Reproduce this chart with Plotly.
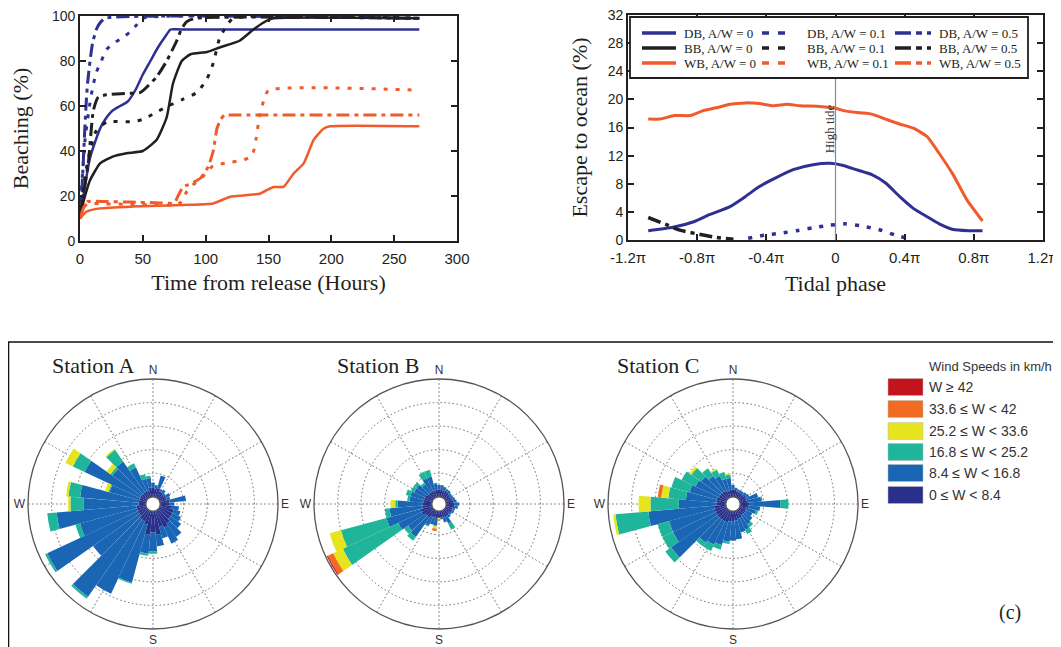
import plotly.graph_objects as go

# The page body adds an 8px margin, so the figure is drawn 8px in from the window corner.
OFF = 8
W, H = 1061 - OFF, 647 - OFF
def px(x): return (x - OFF) / W
def py(y): return 1 - (y - OFF) / H

# ---------------- Beaching (%) vs time (hours) ----------------
t_db0 = [0, 2, 5, 8, 12, 16, 20, 26, 32, 38, 44, 50, 56, 62, 68, 72, 80, 270]
v_db0 = [10, 17, 28, 37, 44, 50, 54, 58, 60, 62, 67, 74, 80, 86, 91, 94, 94, 94]
t_db1 = [0, 2, 4, 7, 10, 13, 17, 21, 27, 33, 40, 45, 50, 270]
v_db1 = [12, 30, 45, 58, 68, 75, 80, 85, 88, 90, 93, 96, 99, 99]
t_db5 = [0, 1, 2, 3, 4, 5, 6, 8, 10, 13, 16, 20, 270]
v_db5 = [10, 18, 28, 40, 52, 62, 70, 80, 88, 94, 97, 99, 99]

t_bb0 = [0, 4, 8, 16, 26, 37, 50, 61, 69, 74, 81, 88, 101, 111, 127, 138, 149, 154, 270]
v_bb0 = [11, 20, 27, 34.5, 37.5, 39, 40, 45, 55, 70, 80, 83, 84, 86, 89, 94, 98, 99, 99]
t_bb1 = [0, 2, 5, 8, 12, 16, 22, 40, 50, 60, 70, 82, 93, 101, 106, 111, 117, 122, 270]
v_bb1 = [11, 20, 32, 40, 48, 51, 53, 53, 54, 57, 60, 63, 66, 72, 79, 90, 96, 99, 99]
t_bb5 = [0, 3, 6.6, 10.6, 14.6, 21, 37, 48, 61, 69, 77, 81, 85, 92, 270]
v_bb5 = [11, 22, 34.5, 58, 64, 65, 65.6, 66, 73, 80, 89, 94.5, 97.5, 99, 99]

t_wb0 = [0, 5, 16, 42, 82, 106, 119.5, 133, 143, 149, 154, 162, 170, 178, 186, 194, 199, 270]
v_wb0 = [10, 13, 14.5, 15.3, 16, 16.7, 19.7, 20.4, 21, 22.7, 24, 24.1, 30, 34.5, 45, 50, 51, 51]
t_wb1 = [0, 3, 6, 20, 40, 60, 75, 80, 85, 90, 95, 100, 105, 110, 120, 130, 137, 140, 143, 146, 150, 270]
v_wb1 = [10, 15, 16.5, 16.5, 16.3, 16, 16, 17, 22, 25, 27, 30, 33, 34, 35, 36, 38, 45, 56, 62, 67, 67]
t_wb5 = [0, 3, 6, 20, 40, 60, 75, 78, 82, 86, 90, 96, 102, 106, 109, 112, 115, 120, 270]
v_wb5 = [10, 15, 17.5, 17.5, 17.3, 17, 17, 20, 24, 25, 26, 28, 33, 40, 50, 54, 56, 56, 56]

# ---------------- Escape to ocean (%) vs tidal phase (units of pi) ----------------
ph_wb0 = [-1.083, -1.016, -0.93, -0.84, -0.765, -0.69, -0.61, -0.52, -0.44, -0.36, -0.28, -0.205,
          -0.09, 0.0, 0.045, 0.14, 0.21, 0.30, 0.37, 0.45, 0.53, 0.60, 0.68, 0.76, 0.85]
e_wb0 = [17.2, 17.2, 17.7, 17.7, 18.4, 18.8, 19.3, 19.5, 19.4, 19.1, 19.3, 19.1,
         19.0, 18.75, 18.4, 18.1, 17.9, 17.1, 16.5, 15.9, 14.7, 12.3, 9.3, 5.7, 2.7]
ph_db0 = [-1.083, -0.94, -0.82, -0.73, -0.61, -0.52, -0.44, -0.34, -0.245, -0.13, -0.03, 0.045,
          0.12, 0.21, 0.29, 0.37, 0.45, 0.53, 0.60, 0.68, 0.77, 0.85]
e_db0 = [1.33, 1.8, 2.6, 3.6, 4.75, 6.2, 7.6, 8.9, 10.0, 10.7, 10.9, 10.6,
         10.0, 9.3, 8.1, 6.2, 4.5, 3.3, 2.3, 1.5, 1.33, 1.3]
ph_db1 = [-0.505, -0.41, -0.32, -0.225, -0.13, -0.035, 0.06, 0.15, 0.25, 0.345, 0.44]
e_db1 = [0.24, 0.7, 0.95, 1.33, 1.75, 2.1, 2.3, 2.0, 1.5, 0.7, 0.1]
ph_bb5 = [-1.083, -0.96, -0.9, -0.765, -0.69, -0.59]
e_bb5 = [3.2, 2.0, 1.4, 0.7, 0.38, 0.1]

phase_ticks = [-1.2, -0.8, -0.4, 0, 0.4, 0.8, 1.2]
phase_labels = ["-1.2π", "-0.8π", "-0.4π", "0", "0.4π", "0.8π", "1.2π"]

# ---------------- Wind roses (10° bins, stacked by speed class) ----------------
dirs = list(range(0, 360, 10))
speed_classes = ["0 ≤ W < 8.4", "8.4 ≤ W < 16.8", "16.8 ≤ W < 25.2",
                 "25.2 ≤ W < 33.6", "33.6 ≤ W < 42", "W ≥ 42"]
speed_colors = ["#28308a", "#1a66b5", "#1fb59b", "#e6e41f", "#f26b22", "#c3141e"]

A_c0 = [0.4, 0.35, 0.4, 0.3, 0.3, 0.25, 0.3, 0.3, 0.4, 0.4, 0.5, 0.6, 0.6, 0.6, 0.7, 0.8, 0.7, 1.0,
        0.9, 1.0, 0.6, 0.5, 0.5, 0.4, 0.4, 0.4, 0.4, 0.3, 0.3, 0.3, 0.3, 0.3, 0.3, 0.3, 0.3, 0.4]
A_c1 = [0.2, 0.15, 0.55, 0.1, 0.15, 0.1, 0.2, 0.15, 0.7, 0.2, 0.3, 0.3, 0.4, 0.55, 0.7, 0.75, 0.5, 0.5,
        0.8, 0.8, 2.55, 3.4, 4.0, 2.4, 4.25, 2.5, 3.4, 2.35, 2.5, 1.3, 2.6, 1.5, 1.6, 1.1, 0.5, 0.4]
A_c2 = [0, 0, 0, 0, 0, 0, 0, 0, 0, 0, 0, 0, 0, 0, 0, 0, 0, 0,
        0.1, 0.1, 0.05, 0, 0.1, 0, 0.1, 0.2, 0.4, 0.55, 0.5, 0.05, 0.55, 0.1, 0.6, 0.2, 0.2, 0.1]
A_c3 = [0, 0, 0, 0, 0, 0, 0, 0, 0, 0, 0, 0, 0, 0, 0, 0, 0, 0,
        0, 0, 0, 0, 0, 0, 0, 0, 0, 0.1, 0.1, 0.15, 0.35, 0.2, 0.05, 0, 0, 0]
A_c4 = [0] * 36
A_c5 = [0] * 36

B_c0 = [0.3, 0.3, 0.3, 0.3, 0.3, 0.25, 0.25, 0.3, 0.3, 0.35, 0.35, 0.3, 0.3, 0.25, 0.3, 0.3, 0.3, 0.25,
        0.25, 0.3, 0.3, 0.3, 0.4, 0.4, 0.5, 0.5, 0.4, 0.4, 0.35, 0.35, 0.35, 0.3, 0.3, 0.3, 0.3, 0.3]
B_c1 = [0.2, 0.2, 0.15, 0.1, 0.1, 0.1, 0.1, 0.1, 0.15, 0.2, 0.15, 0.1, 0.1, 0.1, 0.1, 0.3, 0.2, 0.1,
        0.05, 0.3, 0.3, 0.4, 1.0, 0.9, 1.1, 1.5, 1.4, 1.05, 0.6, 0.6, 0.5, 0.55, 0.4, 0.6, 0.6, 0.25]
B_c2 = [0, 0, 0, 0, 0, 0, 0, 0, 0, 0, 0, 0, 0, 0, 0, 0.3, 0, 0,
        0, 0.05, 0, 0.05, 0.2, 0.2, 2.6, 2.0, 0.2, 0.1, 0.1, 0.2, 0.15, 0.15, 0.1, 0.3, 0.3, 0.05]
B_c3 = [0, 0, 0, 0, 0, 0, 0, 0, 0, 0, 0, 0, 0, 0, 0, 0, 0, 0,
        0.05, 0.1, 0, 0, 0, 0, 0.45, 0.5, 0, 0.2, 0, 0, 0, 0, 0, 0, 0, 0]
B_c4 = [0, 0, 0, 0, 0, 0, 0, 0, 0, 0, 0, 0, 0, 0, 0, 0, 0, 0,
        0.05, 0.1, 0, 0, 0, 0, 0.25, 0, 0, 0, 0, 0, 0, 0, 0, 0, 0, 0]
B_c5 = [0, 0, 0, 0, 0, 0, 0, 0, 0, 0, 0, 0, 0, 0, 0, 0, 0, 0,
        0, 0, 0, 0, 0, 0, 0.05, 0, 0, 0, 0, 0, 0, 0, 0, 0, 0, 0]

C_c0 = [0.3, 0.3, 0.25, 0.25, 0.25, 0.25, 0.3, 0.3, 0.3, 0.4, 0.35, 0.3, 0.3, 0.3, 0.3, 0.35, 0.35, 0.4,
        0.45, 0.45, 0.5, 0.5, 0.5, 0.5, 0.5, 0.5, 0.5, 0.4, 0.4, 0.4, 0.35, 0.35, 0.35, 0.3, 0.3, 0.3]
C_c1 = [0.2, 0.1, 0.1, 0.1, 0.1, 0.15, 0.15, 0.5, 0.6, 1.3, 0.5, 0.4, 0.3, 0.4, 0.45, 0.55, 0.6, 0.8,
        0.8, 0.85, 1.0, 1.1, 1.2, 2.4, 2.0, 2.0, 2.8, 1.6, 1.3, 1.2, 1.1, 1.0, 0.8, 0.7, 0.5, 0.5]
C_c2 = [0, 0, 0, 0, 0, 0, 0, 0, 0.05, 0.35, 0, 0.1, 0, 0, 0.15, 0.2, 0, 0,
        0, 0.1, 0.2, 0.3, 0.2, 0.3, 0.5, 0.5, 1.4, 1.2, 0.75, 0.8, 0.65, 0.5, 0.4, 0.3, 0.3, 0.15]
C_c3 = [0, 0, 0, 0, 0, 0, 0, 0, 0, 0, 0, 0, 0, 0, 0, 0, 0, 0,
        0, 0, 0, 0, 0, 0, 0, 0, 0.1, 0.5, 0.3, 0, 0, 0.1, 0, 0.05, 0, 0.05]
C_c4 = [0, 0, 0, 0, 0, 0, 0, 0, 0, 0, 0, 0, 0, 0, 0, 0, 0, 0,
        0, 0, 0, 0, 0, 0, 0, 0, 0, 0, 0.15, 0, 0, 0, 0, 0, 0, 0]
C_c5 = [0] * 36

# (title, subplot, classes, centre x px, title left px)
stations = [
    ("Station A", "polar", [A_c0, A_c1, A_c2, A_c3, A_c4, A_c5], 153, 50),
    ("Station B", "polar2", [B_c0, B_c1, B_c2, B_c3, B_c4, B_c5], 439, 335),
    ("Station C", "polar3", [C_c0, C_c1, C_c2, C_c3, C_c4, C_c5], 733, 615),
]

# ---------------- styles ----------------
BLUE, BLACK, ORANGE = "#2e3192", "#231f20", "#f15a2b"
DOT = "4px,8px"
DASHDOT = "13px,5px,4px,5px"
SERIF = "Liberation Serif, Times New Roman, serif"
SANS = "Liberation Sans, Arial, sans-serif"

fig = go.Figure()

beach = [
    (t_db0, v_db0, BLUE, "solid", 2.5), (t_db1, v_db1, BLUE, DOT, 3), (t_db5, v_db5, BLUE, DASHDOT, 3),
    (t_bb0, v_bb0, BLACK, "solid", 2.5), (t_bb1, v_bb1, BLACK, DOT, 3), (t_bb5, v_bb5, BLACK, DASHDOT, 3),
    (t_wb0, v_wb0, ORANGE, "solid", 2.5), (t_wb1, v_wb1, ORANGE, DOT, 3), (t_wb5, v_wb5, ORANGE, DASHDOT, 3),
]
for t, v, c, d, w in beach:
    fig.add_trace(go.Scatter(x=t, y=v, mode="lines", xaxis="x", yaxis="y",
                             line=dict(color=c, dash=d, width=w, shape="spline", smoothing=0.5),
                             showlegend=False, hoverinfo="skip"))

esc = [
    (ph_wb0, e_wb0, ORANGE, "solid", 3), (ph_db0, e_db0, BLUE, "solid", 3),
    (ph_db1, e_db1, BLUE, DOT, 3.5), (ph_bb5, e_bb5, BLACK, DASHDOT, 3.5),
]
for x, y, c, d, w in esc:
    fig.add_trace(go.Scatter(x=x, y=y, mode="lines", xaxis="x2", yaxis="y2",
                             line=dict(color=c, dash=d, width=w, shape="spline", smoothing=0.5),
                             showlegend=False, hoverinfo="skip"))

for name, sub, classes, cx, tx in stations:
    for k, vals in enumerate(classes):
        fig.add_trace(go.Barpolar(r=vals, theta=dirs, width=10, subplot=sub,
                                  marker=dict(color=speed_colors[k], line=dict(width=0)),
                                  name=speed_classes[k], showlegend=False, hoverinfo="skip"))

axis_common = dict(ticks="inside", ticklen=6, tickwidth=1.5, tickcolor=BLACK, showline=True,
                   linecolor=BLACK, linewidth=1.8, mirror="ticks", showgrid=False, zeroline=False,
                   automargin=False, ticklabeloverflow="allow")
tick_font = dict(family=SANS, size=15, color=BLACK)
title_font = dict(family=SERIF, size=22, color=BLACK)

GRID_DOT = "1.5px,2.5px"

def polar_layout(cx, cy=504, R=125):
    return dict(
        domain=dict(x=[px(cx - R), px(cx + R)], y=[py(cy + R), py(cy - R)]),
        hole=0.058, bgcolor="white", barmode="stack",
        angularaxis=dict(direction="clockwise", rotation=90, tickvals=list(range(0, 360, 30)),
                         ticktext=["N", "", "", "E", "", "", "S", "", "", "W", "", ""],
                         showgrid=True, gridcolor="#666", gridwidth=1, griddash=GRID_DOT,
                         showline=True, linecolor="#555", linewidth=1.3, ticks="",
                         tickfont=dict(family=SANS, size=12, color="#333")),
        radialaxis=dict(range=[0, 5], dtick=1, showticklabels=False, ticks="", showline=False,
                        gridcolor="#666", gridwidth=1, griddash=GRID_DOT),
    )

fig.update_layout(
    width=W, height=H, margin=dict(l=0, r=0, t=0, b=0),
    paper_bgcolor="white", plot_bgcolor="white", showlegend=False,
    xaxis=dict(domain=[px(80), px(457)], range=[0, 300], dtick=50, anchor="y", ticklabelstandoff=3,
               tickfont=tick_font,
               title=dict(text="Time from release (Hours)", font=title_font, standoff=9), **axis_common),
    yaxis=dict(domain=[py(241), py(16)], range=[0, 100], dtick=20, anchor="x",
               tickfont=dict(family=SANS, size=14, color=BLACK),
               title=dict(text="Beaching (%)", font=title_font, standoff=20), **axis_common),
    xaxis2=dict(domain=[px(628), px(1043)], range=[-1.2, 1.2], tickvals=phase_ticks,
                ticktext=phase_labels, anchor="y2", ticklabelstandoff=3, tickfont=tick_font,
                title=dict(text="Tidal phase", font=title_font, standoff=11), **axis_common),
    yaxis2=dict(domain=[py(240), py(15)], range=[0, 32], dtick=4, anchor="x2",
                tickfont=dict(family=SANS, size=14, color=BLACK),
                title=dict(text="Escape to ocean (%)", font=title_font, standoff=14), **axis_common),
    polar=polar_layout(153), polar2=polar_layout(439), polar3=polar_layout(733),
)

shapes = []
annotations = []

# High tide line + label
shapes.append(dict(type="line", xref="x2", yref="y2", x0=0, x1=0, y0=0, y1=23.2,
                   line=dict(color="#888", width=1.2)))
annotations.append(dict(xref="x2", yref="y2", x=-0.035, y=15.8, text="High tide", textangle=-90,
                        showarrow=False, font=dict(family=SERIF, size=13, color="#333")))

# Manual legend for the escape panel
shapes.append(dict(type="rect", xref="paper", yref="paper", x0=px(630), x1=px(1028), y0=py(78), y1=py(17),
                   fillcolor="white", line=dict(color=BLACK, width=1.8), layer="above"))
leg_rows = [("DB", BLUE, 33), ("BB", BLACK, 48), ("WB", ORANGE, 63)]
leg_cols = [("0", "solid", 642, 676, 682), ("0.1", "7px,9px", 762, 790, 805), ("0.5", "16px,5px,6px,5px", 895, 931, 937)]
for lab, col, ry in leg_rows:
    for aw, dash, lx0, lx1, tx in leg_cols:
        shapes.append(dict(type="line", xref="paper", yref="paper", x0=px(lx0), x1=px(lx1),
                           y0=py(ry), y1=py(ry), line=dict(color=col, width=3.5, dash=dash), layer="above"))
        annotations.append(dict(xref="paper", yref="paper", x=px(tx), y=py(ry), xanchor="left",
                                yanchor="middle", text=f"{lab}, A/W = {aw}", showarrow=False,
                                font=dict(family=SERIF, size=13, color=BLACK)))

# Bottom panel frame
shapes.append(dict(type="rect", xref="paper", yref="paper", x0=px(8.5), x1=px(1080), y0=py(665), y1=py(342),
                   line=dict(color="#111", width=1.5)))

# Station titles
for name, sub, classes, cx, tx in stations:
    annotations.append(dict(xref="paper", yref="paper", x=px(tx), y=py(365), xanchor="left",
                            yanchor="middle", text=name, showarrow=False,
                            font=dict(family=SERIF, size=22, color=BLACK)))

# Wind speed legend
annotations.append(dict(xref="paper", yref="paper", x=px(927), y=py(366), xanchor="left", yanchor="middle",
                        text="Wind Speeds in km/h", showarrow=False,
                        font=dict(family=SANS, size=13, color="#333")))
leg_y = [495, 473, 452, 431, 409, 387]
for k in range(6):
    yc = leg_y[k]
    shapes.append(dict(type="rect", xref="paper", yref="paper", x0=px(888), x1=px(923),
                       y0=py(yc + 8.5), y1=py(yc - 8.5), fillcolor=speed_colors[k],
                       line=dict(color="#bbb", width=0.5)))
    annotations.append(dict(xref="paper", yref="paper", x=px(927), y=py(yc), xanchor="left", yanchor="middle",
                            text=speed_classes[k], showarrow=False,
                            font=dict(family=SANS, size=14, color="#333")))

annotations.append(dict(xref="paper", yref="paper", x=px(1023), y=py(626), text="(c)", showarrow=False,
                        font=dict(family=SERIF, size=20, color=BLACK)))

fig.update_layout(shapes=shapes, annotations=annotations)
fig.write_html("out.html")
